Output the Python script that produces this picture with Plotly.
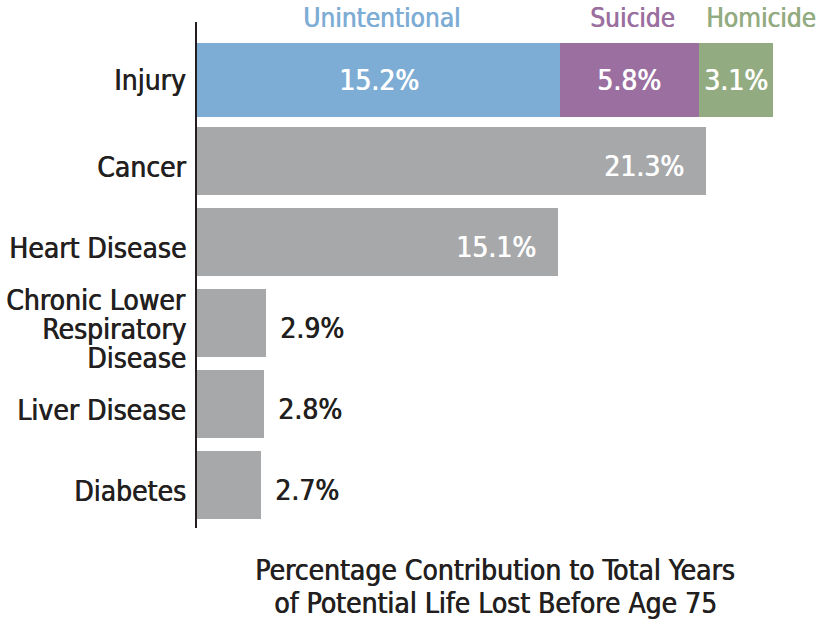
import plotly.graph_objects as go

# Causes of premature death, top to bottom
causes = ["Injury", "Cancer", "Heart Disease", "Chronic Lower<br>Respiratory<br>Disease",
          "Liver Disease", "Diabetes"]
totals = [None, 21.3, 15.1, 2.9, 2.8, 2.7]

# Injury is split by intent
injury_parts = ["Unintentional", "Suicide", "Homicide"]
injury_values = [15.2, 5.8, 3.1]
injury_colors = ["#7dadd5", "#9b6f9f", "#93ab80"]

caption_lines = ["Percentage Contribution to Total Years",
                 "of Potential Life Lost Before Age 75"]

GRAY = "#a7a8aa"
DARK = "#231f20"
FONT = "DejaVu Sans Condensed"
FS = 28

PLOT_L, PLOT_R = 197, 806

fig = go.Figure()

ypos = list(range(len(causes)))

# Stacked injury segments
base = 0.0
part_bases = []
for name, val, col in zip(injury_parts, injury_values, injury_colors):
    fig.add_trace(go.Bar(
        x=[val], y=[0], base=[base], orientation="h", width=[0.92],
        marker=dict(color=col, line=dict(width=0)), name=name,
        showlegend=False, hoverinfo="skip",
    ))
    part_bases.append(base)
    base += val

# Other causes
other_y = ypos[1:]
other_x = totals[1:]
fig.add_trace(go.Bar(
    x=other_x, y=other_y, orientation="h", width=[0.85] * len(other_x),
    marker=dict(color=GRAY, line=dict(width=0)), showlegend=False, hoverinfo="skip",
))


def font(color, size=FS):
    # a slight same-colour shadow gives the face a little more weight
    return dict(family=FONT, size=size, color=color, shadow=f"0.7px 0 0 {color}")


annotations = []

# Category labels left of the axis (multi-line labels stacked tightly)
LINE_H = 29
for yy, name in zip(ypos, causes):
    lines = name.split("<br>")
    n = len(lines)
    for k, line in enumerate(lines):
        annotations.append(dict(
            x=0, y=yy, xref="x", yref="y", xshift=-9, xanchor="right", yanchor="middle",
            yshift=(-6 if yy else 0) - (k - (n - 1) / 2) * LINE_H,
            text=line, showarrow=False, font=font(DARK),
        ))

# Injury segment values (centered in each segment)
for val, b in zip(injury_values, part_bases):
    annotations.append(dict(
        x=b + val / 2, y=0, text=f"{val}%", showarrow=False,
        font=font("white"), xanchor="center", yanchor="middle",
    ))

# Intent labels above the injury bar
for name, val, col, b in zip(injury_parts, injury_values, injury_colors, part_bases):
    if name == "Homicide":
        ann = dict(x=b, xshift=5, xanchor="left")
    else:
        ann = dict(x=b + val / 2, xshift=3, xanchor="center")
    ann.update(y=0, yshift=62, text=name, showarrow=False, font=font(col, 26), yanchor="middle")
    annotations.append(ann)

# Value labels: inside large bars, outside small bars
for yy, v in zip(other_y, other_x):
    if v > 10:
        annotations.append(dict(
            x=v, y=yy, xshift=-20, yshift=-5, text=f"{v}%", showarrow=False,
            font=font("white"), xanchor="right", yanchor="middle",
        ))
    else:
        annotations.append(dict(
            x=v, y=yy, xshift=12, yshift=-5, text=f"{v}%", showarrow=False,
            font=font(DARK), xanchor="left", yanchor="middle",
        ))

# Axis caption, two lines
for i, line in enumerate(caption_lines):
    annotations.append(dict(
        x=(495 - PLOT_L) / (PLOT_R - PLOT_L), xref="paper", y=0, yref="paper",
        text=line, showarrow=False, xanchor="center", yanchor="middle",
        yshift=-42 - 33 * i, font=font(DARK),
    ))

fig.update_layout(
    width=817, height=623,
    margin=dict(l=PLOT_L, r=817 - PLOT_R, t=22, b=95, autoexpand=False),
    paper_bgcolor="white", plot_bgcolor="white",
    barmode="overlay", bargap=0,
    annotations=annotations,
    xaxis=dict(range=[0, 25.5], visible=False, fixedrange=True, automargin=False),
    yaxis=dict(
        range=[5.53, -0.716], tickmode="array", tickvals=ypos, showticklabels=False,
        showline=True, linecolor=DARK, linewidth=2, showgrid=False, zeroline=False,
        ticks="", automargin=False, fixedrange=True,
    ),
)

fig.write_html("out.html")
